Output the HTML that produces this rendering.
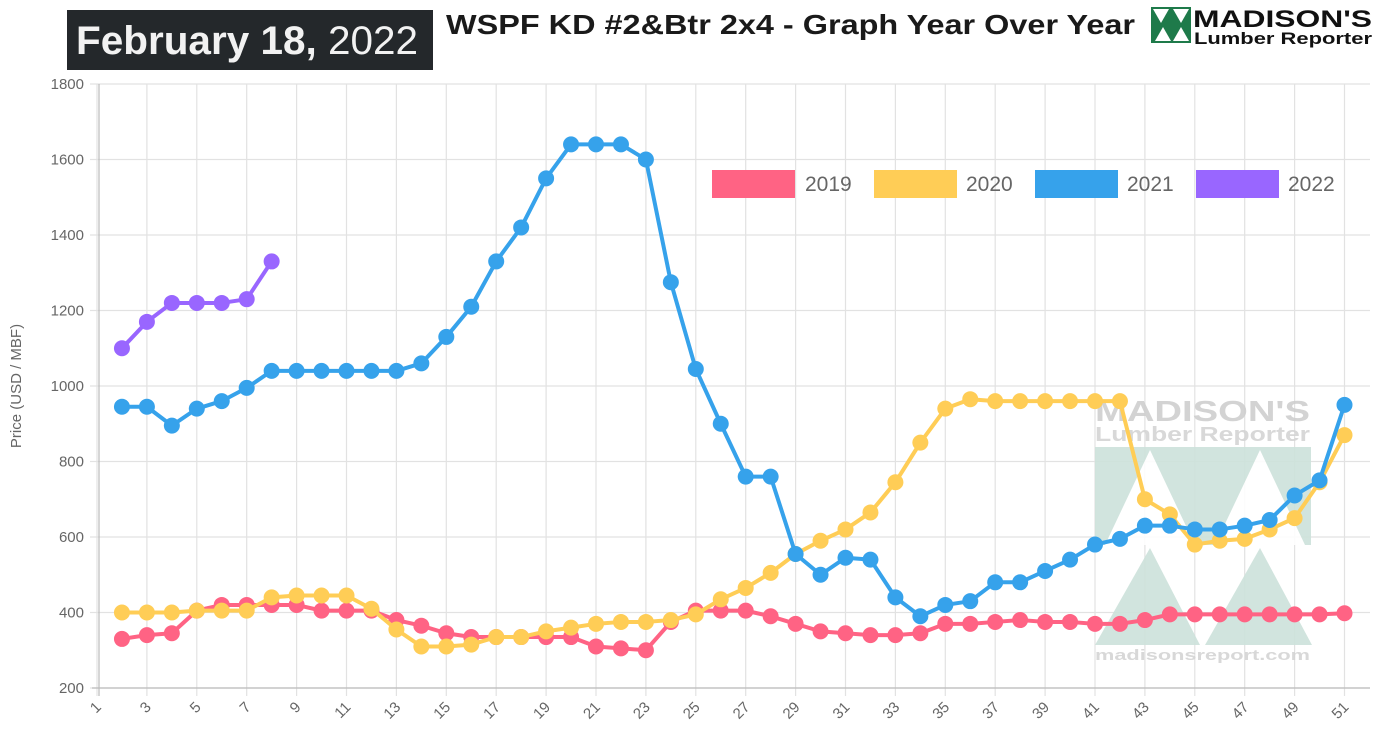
<!DOCTYPE html>
<html><head><meta charset="utf-8"><style>
html,body{margin:0;padding:0;background:#fff;}
svg{display:block;font-family:"Liberation Sans",sans-serif;}
</style></head><body>
<svg id="c" width="1390" height="743" xmlns="http://www.w3.org/2000/svg">
<rect width="1390" height="743" fill="#fff"/>
<g id="grid"></g>
<!-- watermark -->
<g opacity="0.9">
<text x="1095" y="421" font-size="29" font-weight="bold" fill="#cfcfcf" textLength="215" lengthAdjust="spacingAndGlyphs">MADISON'S</text>
<text x="1095" y="441" font-size="20" font-weight="bold" fill="#d4d4d4" textLength="215" lengthAdjust="spacingAndGlyphs">Lumber Reporter</text>
<rect x="1095" y="447" width="216" height="98" fill="#cde2db"/>
<polygon points="1105,545 1150,450 1195,545" fill="#fff"/>
<polygon points="1215,545 1260,450 1305,545" fill="#fff"/>
<polygon points="1095,645 1150,548 1200,645" fill="#cde2db"/>
<polygon points="1205,645 1260,548 1312,645" fill="#cde2db"/>
<text x="1095" y="660" font-size="15" font-weight="bold" fill="#d4d4d4" textLength="215" lengthAdjust="spacingAndGlyphs">madisonsreport.com</text>
</g>
<g id="series"></g>
<g id="labels" font-size="15" fill="#666"></g>
<text transform="translate(21,386) rotate(-90)" text-anchor="middle" font-size="15" fill="#666">Price (USD / MBF)</text>
<!-- legend -->
<rect x="712" y="170" width="83" height="28" fill="#ff6384"/><text x="805" y="191" font-size="21" fill="#666">2019</text>
<rect x="874" y="170" width="83" height="28" fill="#ffcd56"/><text x="966" y="191" font-size="21" fill="#666">2020</text>
<rect x="1035" y="170" width="83" height="28" fill="#36a2eb"/><text x="1127" y="191" font-size="21" fill="#666">2021</text>
<rect x="1196" y="170" width="83" height="28" fill="#9966ff"/><text x="1288" y="191" font-size="21" fill="#666">2022</text>
<!-- header -->
<rect x="67" y="10" width="366" height="60" fill="#24282b"/>
<text x="76" y="54" font-size="40" fill="#f2f2f2" textLength="342" lengthAdjust="spacingAndGlyphs"><tspan font-weight="bold">February 18,</tspan> 2022</text>
<text x="446" y="34" font-size="28" font-weight="bold" fill="#1a1a1a" textLength="689" lengthAdjust="spacingAndGlyphs">WSPF KD #2&amp;Btr 2x4 - Graph Year Over Year</text>
<g>
<rect x="1151" y="7" width="40" height="36" fill="#1e7a4a"/>
<polygon points="1153,9 1161,23 1169,9" fill="#fff"/><polygon points="1173,9 1181,23 1189,9" fill="#fff"/>
<polygon points="1155,41 1163,27 1171,41" fill="#fff"/><polygon points="1173,41 1181,27 1189,41" fill="#fff"/>
<text x="1193" y="27" font-size="24" font-weight="bold" fill="#111" textLength="179" lengthAdjust="spacingAndGlyphs">MADISON'S</text>
<text x="1194" y="44" font-size="17" font-weight="bold" fill="#111" textLength="178" lengthAdjust="spacingAndGlyphs">Lumber Reporter</text>
</g>
</svg>
<script>
const X=w=>97+(w-1)*24.95, Y=v=>688-(v-200)*0.3775;
const ns="http://www.w3.org/2000/svg";
function el(t,a,p){const e=document.createElementNS(ns,t);for(const k in a)e.setAttribute(k,a[k]);p.appendChild(e);return e;}
const g=document.getElementById('grid'),L=document.getElementById('labels'),S=document.getElementById('series');
for(let v=200;v<=1800;v+=200){el('line',{x1:90,x2:1370,y1:Y(v),y2:Y(v),stroke:'#e2e2e2','stroke-width':1.2},g);
 const t=el('text',{x:84,y:Y(v)+5,'text-anchor':'end'},L);t.textContent=v;}
for(let w=1;w<=52;w+=2){const x=Math.min(X(w),1370);el('line',{x1:x,x2:x,y1:Y(1800),y2:696,stroke:'#e2e2e2','stroke-width':1.2},g);
 if(w<=51){const t=el('text',{transform:`translate(${X(w)+5},${708}) rotate(-45)`,'text-anchor':'end'},L);t.textContent=w;}}
el('line',{x1:99,x2:99,y1:Y(1800),y2:696,stroke:'#bbb','stroke-width':1.2},g);
el('line',{x1:92,x2:1370,y1:688,y2:688,stroke:'#bbb','stroke-width':1.2},g);
const d={
"#ff6384":[330,340,345,405,420,420,420,420,405,405,405,380,365,345,335,335,335,335,335,310,305,300,375,405,405,405,390,370,350,345,340,340,345,370,370,375,380,375,375,370,370,380,395,395,395,395,395,395,395,398],
"#ffcd56":[400,400,400,405,405,405,440,445,445,445,410,355,310,310,315,335,335,350,360,370,375,375,380,395,435,465,505,555,590,620,665,745,850,940,965,960,960,960,960,960,960,700,660,580,590,595,620,650,745,870],
"#36a2eb":[945,945,895,940,960,995,1040,1040,1040,1040,1040,1040,1060,1130,1210,1330,1420,1550,1640,1640,1640,1600,1275,1045,900,760,760,555,500,545,540,440,390,420,430,480,480,510,540,580,595,630,630,620,620,630,645,710,750,950],
"#9966ff":[1100,1170,1220,1220,1220,1230,1330]};
for(const c in d){const a=d[c];const pts=a.map((v,i)=>X(i+2)+','+Y(v)).join(' ');
 el('polyline',{points:pts,fill:'none',stroke:c,'stroke-width':4,'stroke-linejoin':'round'},S);
 a.forEach((v,i)=>el('circle',{cx:X(i+2),cy:Y(v),r:8,fill:c},S));}
</script>
</body></html>
